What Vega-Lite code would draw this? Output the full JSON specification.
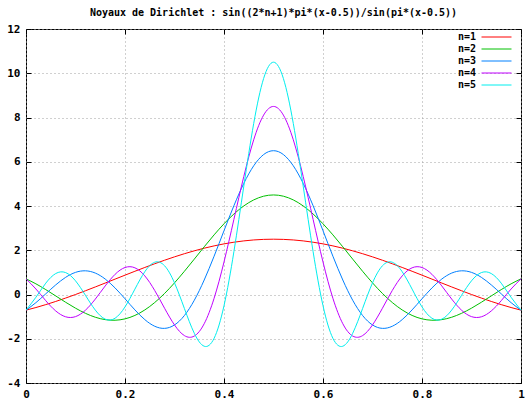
{
  "$schema": "https://vega.github.io/schema/vega-lite/v6.json",
  "width": 495,
  "height": 354,
  "autosize": "none",
  "padding": {"left": 26, "top": 29, "right": 5, "bottom": 16},
  "background": "white",
  "title": {
    "text": "Noyaux de Dirichlet : sin((2*n+1)*pi*(x-0.5))/sin(pi*(x-0.5))",
    "font": "DejaVu Sans Mono",
    "fontSize": 10,
    "fontWeight": "bold",
    "color": "black",
    "offset": 5,
    "anchor": "middle"
  },
  "config": {
    "view": {"stroke": "black", "strokeWidth": 1},
    "axis": {
      "labelFont": "DejaVu Sans Mono",
      "labelFontSize": 11,
      "labelFontWeight": "bold",
      "labelColor": "black",
      "domain": false,
      "tickColor": "black",
      "tickSize": -5,
      "gridColor": "#a0a0a0",
      "gridDash": [1, 3],
      "gridWidth": 1,
      "title": null
    },
    "legend": {
      "labelFont": "DejaVu Sans Mono",
      "labelFontSize": 10,
      "labelFontWeight": "bold",
      "labelColor": "black"
    }
  },
  "data": {
    "values": [
      {"x": 0, "n=1": -0.7071, "n=2": 0.7071, "n=3": -0.7071, "n=4": 0.7071, "n=5": -0.7071},
      {"x": 0.02, "n=1": -0.589, "n=2": 0.4827, "n=3": -0.3688, "n=4": 0.2492, "n=5": -0.1256},
      {"x": 0.04, "n=1": -0.4576, "n=2": 0.2199, "n=3": 0.0317, "n=4": -0.2812, "n=5": 0.5131},
      {"x": 0.06, "n=1": -0.3146, "n=2": -0.0639, "n=3": 0.4335, "n=4": -0.7421, "n=5": 0.9465},
      {"x": 0.08, "n=1": -0.1615, "n=2": -0.3497, "n=3": 0.7744, "n=4": -1.0076, "n=5": 0.9914},
      {"x": 0.1, "n=1": 0, "n=2": -0.618, "n=3": 1.0, "n=4": -1.0, "n=5": 0.618},
      {"x": 0.12, "n=1": 0.1682, "n=2": -0.8498, "n=3": 1.0707, "n=4": -0.7113, "n=5": -0.0338},
      {"x": 0.14, "n=1": 0.3415, "n=2": -1.0276, "n=3": 0.9685, "n=4": -0.2071, "n=5": -0.7045},
      {"x": 0.16, "n=1": 0.5181, "n=2": -1.1361, "n=3": 0.6994, "n=4": 0.3866, "n=5": -1.1137},
      {"x": 0.18, "n=1": 0.6962, "n=2": -1.1634, "n=3": 0.2945, "n=4": 0.9126, "n=5": -1.0717},
      {"x": 0.2, "n=1": 0.874, "n=2": -1.1013, "n=3": -0.1934, "n=4": 1.2208, "n=5": -0.5612},
      {"x": 0.22, "n=1": 1.05, "n=2": -0.9461, "n=3": -0.6954, "n=4": 1.2067, "n=5": 0.2432},
      {"x": 0.24, "n=1": 1.2223, "n=2": -0.6983, "n=3": -1.1346, "n=4": 0.8408, "n=5": 1.029},
      {"x": 0.26, "n=1": 1.3893, "n=2": -0.3633, "n=3": -1.4349, "n=4": 0.1831, "n=5": 1.4579},
      {"x": 0.28, "n=1": 1.5495, "n=2": 0.0493, "n=3": -1.531, "n=4": -0.6231, "n=5": 1.2975},
      {"x": 0.3, "n=1": 1.7013, "n=2": 0.5257, "n=3": -1.3764, "n=4": -1.3764, "n=5": 0.5257},
      {"x": 0.32, "n=1": 1.8433, "n=2": 1.049, "n=3": -0.95, "n=4": -1.858, "n=5": -0.6322},
      {"x": 0.34, "n=1": 1.9742, "n=2": 1.5994, "n=3": -0.2602, "n=4": -1.8782, "n=5": -1.7526},
      {"x": 0.36, "n=1": 2.0927, "n=2": 2.1555, "n=3": 0.6552, "n=4": -1.3201, "n=5": -2.3382},
      {"x": 0.38, "n=1": 2.1977, "n=2": 2.6951, "n=3": 1.7316, "n=4": -0.1706, "n=5": -1.9802},
      {"x": 0.4, "n=1": 2.2882, "n=2": 3.1962, "n=3": 2.8833, "n=4": 1.4691, "n=5": -0.5062},
      {"x": 0.42, "n=1": 2.3635, "n=2": 3.6384, "n=3": 4.0132, "n=4": 3.3951, "n=5": 1.9372},
      {"x": 0.44, "n=1": 2.4228, "n=2": 4.0032, "n=3": 5.0213, "n=4": 5.3341, "n=5": 4.8978},
      {"x": 0.46, "n=1": 2.4656, "n=2": 4.2754, "n=3": 5.8164, "n=4": 6.992, "n=5": 7.7282},
      {"x": 0.48, "n=1": 2.4913, "n=2": 4.4432, "n=3": 6.3251, "n=4": 8.107, "n=5": 9.7613},
      {"x": 0.5, "n=1": 2.5, "n=2": 4.5, "n=3": 6.5, "n=4": 8.5, "n=5": 10.5},
      {"x": 0.52, "n=1": 2.4913, "n=2": 4.4432, "n=3": 6.3251, "n=4": 8.107, "n=5": 9.7613},
      {"x": 0.54, "n=1": 2.4656, "n=2": 4.2754, "n=3": 5.8164, "n=4": 6.992, "n=5": 7.7282},
      {"x": 0.56, "n=1": 2.4228, "n=2": 4.0032, "n=3": 5.0213, "n=4": 5.3341, "n=5": 4.8978},
      {"x": 0.58, "n=1": 2.3635, "n=2": 3.6384, "n=3": 4.0132, "n=4": 3.3951, "n=5": 1.9372},
      {"x": 0.6, "n=1": 2.2882, "n=2": 3.1962, "n=3": 2.8833, "n=4": 1.4691, "n=5": -0.5062},
      {"x": 0.62, "n=1": 2.1977, "n=2": 2.6951, "n=3": 1.7316, "n=4": -0.1706, "n=5": -1.9802},
      {"x": 0.64, "n=1": 2.0927, "n=2": 2.1555, "n=3": 0.6552, "n=4": -1.3201, "n=5": -2.3382},
      {"x": 0.66, "n=1": 1.9742, "n=2": 1.5994, "n=3": -0.2602, "n=4": -1.8782, "n=5": -1.7526},
      {"x": 0.68, "n=1": 1.8433, "n=2": 1.049, "n=3": -0.95, "n=4": -1.858, "n=5": -0.6322},
      {"x": 0.7, "n=1": 1.7013, "n=2": 0.5257, "n=3": -1.3764, "n=4": -1.3764, "n=5": 0.5257},
      {"x": 0.72, "n=1": 1.5495, "n=2": 0.0493, "n=3": -1.531, "n=4": -0.6231, "n=5": 1.2975},
      {"x": 0.74, "n=1": 1.3893, "n=2": -0.3633, "n=3": -1.4349, "n=4": 0.1831, "n=5": 1.4579},
      {"x": 0.76, "n=1": 1.2223, "n=2": -0.6983, "n=3": -1.1346, "n=4": 0.8408, "n=5": 1.029},
      {"x": 0.78, "n=1": 1.05, "n=2": -0.9461, "n=3": -0.6954, "n=4": 1.2067, "n=5": 0.2432},
      {"x": 0.8, "n=1": 0.874, "n=2": -1.1013, "n=3": -0.1934, "n=4": 1.2208, "n=5": -0.5612},
      {"x": 0.82, "n=1": 0.6962, "n=2": -1.1634, "n=3": 0.2945, "n=4": 0.9126, "n=5": -1.0717},
      {"x": 0.84, "n=1": 0.5181, "n=2": -1.1361, "n=3": 0.6994, "n=4": 0.3866, "n=5": -1.1137},
      {"x": 0.86, "n=1": 0.3415, "n=2": -1.0276, "n=3": 0.9685, "n=4": -0.2071, "n=5": -0.7045},
      {"x": 0.88, "n=1": 0.1682, "n=2": -0.8498, "n=3": 1.0707, "n=4": -0.7113, "n=5": -0.0338},
      {"x": 0.9, "n=1": 0, "n=2": -0.618, "n=3": 1.0, "n=4": -1.0, "n=5": 0.618},
      {"x": 0.92, "n=1": -0.1615, "n=2": -0.3497, "n=3": 0.7744, "n=4": -1.0076, "n=5": 0.9914},
      {"x": 0.94, "n=1": -0.3146, "n=2": -0.0639, "n=3": 0.4335, "n=4": -0.7421, "n=5": 0.9465},
      {"x": 0.96, "n=1": -0.4576, "n=2": 0.2199, "n=3": 0.0317, "n=4": -0.2812, "n=5": 0.5131},
      {"x": 0.98, "n=1": -0.589, "n=2": 0.4827, "n=3": -0.3688, "n=4": 0.2492, "n=5": -0.1256},
      {"x": 1, "n=1": -0.7071, "n=2": 0.7071, "n=3": -0.7071, "n=4": 0.7071, "n=5": -0.7071}
    ]
  },
  "transform": [{"fold": ["n=1", "n=2", "n=3", "n=4", "n=5"], "as": ["n", "y"]}],
  "layer": [
    {
      "mark": {"type": "line", "interpolate": "natural", "strokeWidth": 1, "clip": true},
      "encoding": {
        "x": {
          "field": "x", "type": "quantitative",
          "scale": {"domain": [0, 1], "nice": false, "zero": false},
          "axis": {"values": [0, 0.2, 0.4, 0.6, 0.8, 1], "labelExpr": "'' + datum.value", "labelPadding": 10, "labelFlush": false, "orient": "bottom"}
        },
        "y": {
          "field": "y", "type": "quantitative",
          "scale": {"domain": [-4, 12], "nice": false, "zero": false},
          "axis": {"values": [-4, -2, 0, 2, 4, 6, 8, 10, 12], "labelExpr": "'' + datum.value", "labelPadding": 11, "labelFlush": false, "orient": "left"}
        },
        "color": {
          "field": "n", "type": "nominal",
          "scale": {"domain": ["n=1", "n=2", "n=3", "n=4", "n=5"], "range": ["#ff0000", "#00c000", "#0080ff", "#c000ff", "#00eeee"]},
          "legend": {
            "title": null,
            "orient": "none",
            "legendX": 465,
            "legendY": 2.5,
            "padding": 0,
            "symbolType": "M-3,0H3",
            "symbolSize": 100,
            "symbolStrokeWidth": 1,
            "labelAlign": "right",
            "labelOffset": -26,
            "rowPadding": 1,
            "labelBaseline": "middle",
            "encode": {
              "symbols": {
                "update": {
                  "stroke": {"scale": "color", "field": "value"},
                  "strokeOpacity": {"value": 1},
                  "fill": {"value": "transparent"}
                }
              }
            }
          }
        }
      }
    },
    {
      "mark": {"type": "line", "opacity": 0},
      "encoding": {
        "x": {
          "field": "x", "type": "quantitative",
          "scale": {"domain": [0, 1], "nice": false, "zero": false},
          "axis": {"values": [0, 0.2, 0.4, 0.6, 0.8, 1], "orient": "top", "labels": false, "grid": false}
        },
        "y": {
          "field": "y", "type": "quantitative",
          "scale": {"domain": [-4, 12], "nice": false, "zero": false},
          "axis": {"values": [-4, -2, 0, 2, 4, 6, 8, 10, 12], "orient": "right", "labels": false, "grid": false}
        },
        "detail": {"field": "n"}
      }
    }
  ],
  "resolve": {"axis": {"x": "independent", "y": "independent"}}
}
